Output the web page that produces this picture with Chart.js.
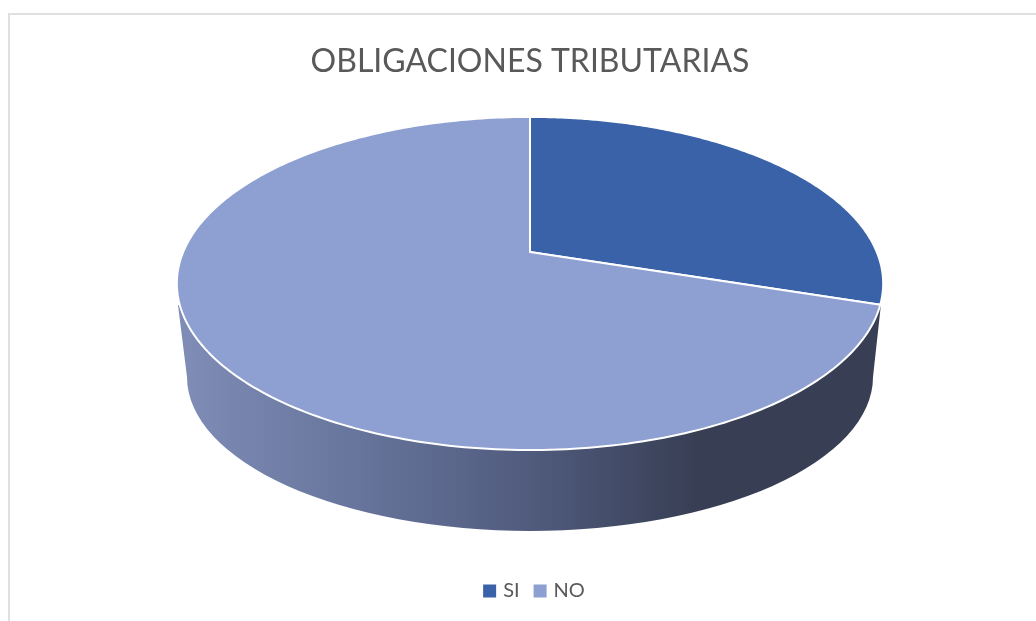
<!DOCTYPE html>
<html>
<head>
<meta charset="utf-8">
<script src="https://cdn.jsdelivr.net/npm/chart.js@4"></script>
<style>
  html, body { margin: 0; padding: 0; background: #fff; overflow: hidden; }
  #frame { position: absolute; left: 8px; top: 13px; width: 1100px; height: 700px; border: 2px solid #e0e0e0; }
  #wrap { position: absolute; left: 0; top: 0; width: 1036px; height: 621px; overflow: hidden; }
  canvas { position: absolute; left: 0; top: 0; }
</style>
</head>
<body>
<div id="wrap">
  <div id="frame"></div>
  <canvas id="pie-chart" width="1036" height="621"></canvas>
</div>
<script>
const titleText = "OBLIGACIONES TRIBUTARIAS";
const categories = ["SI", "NO"];
const seriesValues = [30, 70];
const sliceColors = ["#3a62a9", "#8e9fd1"];

// Perspective of the tilted disc: the pie centre lands above the middle of the ellipse
const discRadiusX = 346.8;
const discApexY = 252;
const discSpreadY = 113;
const discTilt = -0.189;

function project(cx, angle) {
  const u = Math.cos(angle);
  const v = Math.sin(angle);
  const w = 1 + discTilt * v;
  return { x: cx + discRadiusX * u / w, y: (discSpreadY * v + discApexY) / w };
}

function drawWall(ctx, cx) {
  const gradient = ctx.createLinearGradient(187, 0, 873, 0);
  gradient.addColorStop(0, "#7e8cb6");
  gradient.addColorStop(0.25, "#67749b");
  gradient.addColorStop(0.5, "#505b7d");
  gradient.addColorStop(0.74, "#383f55");
  gradient.addColorStop(1, "#383f55");

  ctx.beginPath();
  ctx.moveTo(cx - 352, 305);
  ctx.lineTo(cx - 343, 377);
  ctx.ellipse(cx, 377, 343, 154, 0, Math.PI, 0, true);
  ctx.lineTo(cx + 351, 304);
  ctx.closePath();
  ctx.fillStyle = gradient;
  ctx.fill();
}

function drawSlice(ctx, arc) {
  const steps = 240;
  const span = arc.endAngle - arc.startAngle;
  ctx.beginPath();
  ctx.moveTo(arc.x, discApexY);
  for (let i = 0; i <= steps; i++) {
    const p = project(arc.x, arc.startAngle + span * i / steps);
    ctx.lineTo(p.x, p.y);
  }
  ctx.closePath();
  ctx.fillStyle = arc.options.backgroundColor;
  ctx.fill();
  ctx.lineJoin = "round";
  ctx.lineWidth = arc.options.borderWidth;
  ctx.strokeStyle = arc.options.borderColor;
  ctx.stroke();
}

const perspectivePie = {
  id: "perspectivePie",
  afterLayout(chart) {
    // the legend sits a little right of the title in the original
    chart.legend.left += 5.5;
    chart.legend.right += 5.5;
  },
  beforeDatasetsDraw(chart) {
    const ctx = chart.ctx;
    const arcs = chart.getDatasetMeta(0).data;
    ctx.save();
    drawWall(ctx, arcs[0].x);
    arcs.forEach(arc => drawSlice(ctx, arc));
    ctx.restore();
    return false;
  }
};

new Chart(document.getElementById("pie-chart"), {
  type: "pie",
  data: {
    labels: categories,
    datasets: [{
      data: seriesValues,
      backgroundColor: sliceColors,
      borderColor: "#ffffff",
      borderWidth: 2
    }]
  },
  options: {
    responsive: false,
    animation: false,
    layout: { padding: { left: 24, bottom: 10 } },
    plugins: {
      title: {
        display: true,
        text: titleText,
        color: "#595959",
        font: { family: "Lato", size: 32, weight: "normal" },
        padding: { top: 42, bottom: 20 }
      },
      legend: {
        position: "bottom",
        labels: {
          // small box plus thick stroke: keeps the swatch 13px with a tighter gap to the text
          boxWidth: 7,
          boxHeight: 7,
          color: "#595959",
          font: { family: "Lato", size: 20 },
          padding: 17,
          generateLabels: chart => Chart.overrides.pie.plugins.legend.labels.generateLabels(chart)
            .map(item => ({ ...item, lineWidth: 6, strokeStyle: item.fillStyle }))
        }
      },
      tooltip: { enabled: false }
    }
  },
  plugins: [perspectivePie]
});
</script>
</body>
</html>
